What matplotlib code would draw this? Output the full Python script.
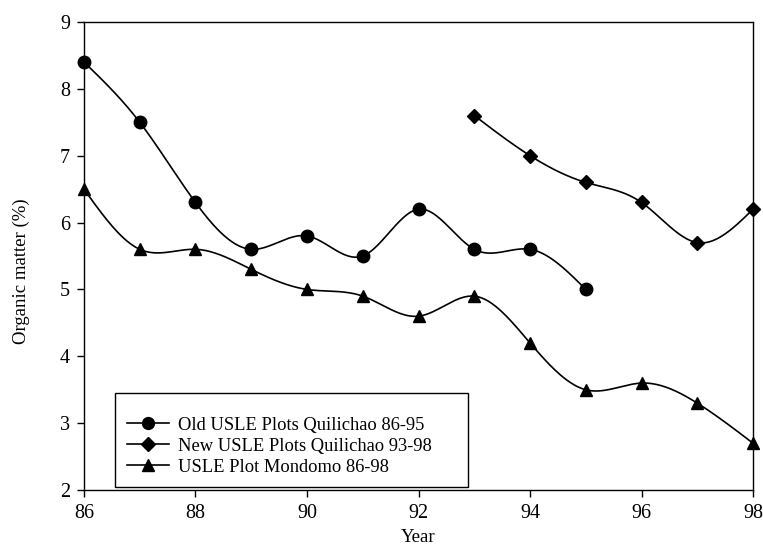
import numpy as np
import matplotlib
matplotlib.use("Agg")
import matplotlib.pyplot as plt
from matplotlib.patches import Rectangle

plt.rcParams['font.family'] = ['Liberation Serif', 'DejaVu Serif']

years_old = [86, 87, 88, 89, 90, 91, 92, 93, 94, 95]
om_old = [8.4, 7.5, 6.3, 5.6, 5.8, 5.5, 6.2, 5.6, 5.6, 5.0]
years_new = [93, 94, 95, 96, 97, 98]
om_new = [7.6, 7.0, 6.6, 6.3, 5.7, 6.2]
years_mon = [86, 87, 88, 89, 90, 91, 92, 93, 94, 95, 96, 97, 98]
om_mon = [6.5, 5.6, 5.6, 5.3, 5.0, 4.9, 4.6, 4.9, 4.2, 3.5, 3.6, 3.3, 2.7]

labels = ["Old USLE Plots Quilichao 86-95", "New USLE Plots Quilichao 93-98", "USLE Plot Mondomo 86-98"]


def natural_spline(x, y, n=400):
    x = np.asarray(x, float)
    y = np.asarray(y, float)
    m = len(x)
    h = np.diff(x)
    A = np.zeros((m, m))
    b = np.zeros(m)
    A[0, 0] = 1
    A[-1, -1] = 1
    for i in range(1, m - 1):
        A[i, i - 1] = h[i - 1]
        A[i, i] = 2 * (h[i - 1] + h[i])
        A[i, i + 1] = h[i]
        b[i] = 3 * ((y[i + 1] - y[i]) / h[i] - (y[i] - y[i - 1]) / h[i - 1])
    c = np.linalg.solve(A, b)
    bb = np.zeros(m - 1)
    d = np.zeros(m - 1)
    for i in range(m - 1):
        bb[i] = (y[i + 1] - y[i]) / h[i] - h[i] * (2 * c[i] + c[i + 1]) / 3
        d[i] = (c[i + 1] - c[i]) / (3 * h[i])
    xs = np.linspace(x[0], x[-1], n)
    idx = np.clip(np.searchsorted(x, xs) - 1, 0, m - 2)
    dx = xs - x[idx]
    ys = y[idx] + bb[idx] * dx + c[idx] * dx ** 2 + d[idx] * dx ** 3
    return xs, ys


fig = plt.figure(figsize=(7.63, 5.47), dpi=100)
ax = fig.add_axes([0.110, 0.104, 0.877, 0.856])

series = [(years_old, om_old, 'o', 9), (years_new, om_new, 'D', 7.5), (years_mon, om_mon, '^', 9)]
handles = []
for (xv, yv, mk, ms), lab in zip(series, labels):
    xs, ys = natural_spline(xv, yv)
    ax.plot(xs, ys, color='black', lw=1.2, zorder=2)
    ax.plot(xv, yv, linestyle='none', marker=mk, ms=ms, color='black', zorder=3, clip_on=False)
    h, = ax.plot([], [], color='black', lw=1.2, marker=mk, ms=ms * 0.95)
    handles.append(h)

ax.set_xlim(86, 98)
ax.set_ylim(2, 9)
ax.set_xticks(np.arange(86, 99, 2))
ax.set_yticks(np.arange(2, 10, 1))
ax.tick_params(direction='out', length=5, width=1, labelsize=14.5)
ax.tick_params(axis='x', pad=5)
ax.tick_params(axis='y', pad=5)
for s in ax.spines.values():
    s.set_linewidth(1.0)
ax.set_xlabel('Year', fontsize=13.5, labelpad=4)
ax.set_ylabel('Organic matter (%)', fontsize=13.5)
ax.yaxis.set_label_coords(-0.08, 0.468)

# legend frame drawn as a box in axes coordinates
ax.add_patch(Rectangle((0.046, 0.006), 0.528, 0.201, transform=ax.transAxes,
                       facecolor='white', edgecolor='black', lw=1.0, zorder=4))
leg = ax.legend(handles, labels, loc='upper left', bbox_to_anchor=(0.064, 0.157),
                borderaxespad=0, borderpad=0, fontsize=13.3, frameon=False,
                handlelength=2.3, labelspacing=0.22, handletextpad=0.45)
leg.set_zorder(5)

fig.savefig('out.png', dpi=100)
